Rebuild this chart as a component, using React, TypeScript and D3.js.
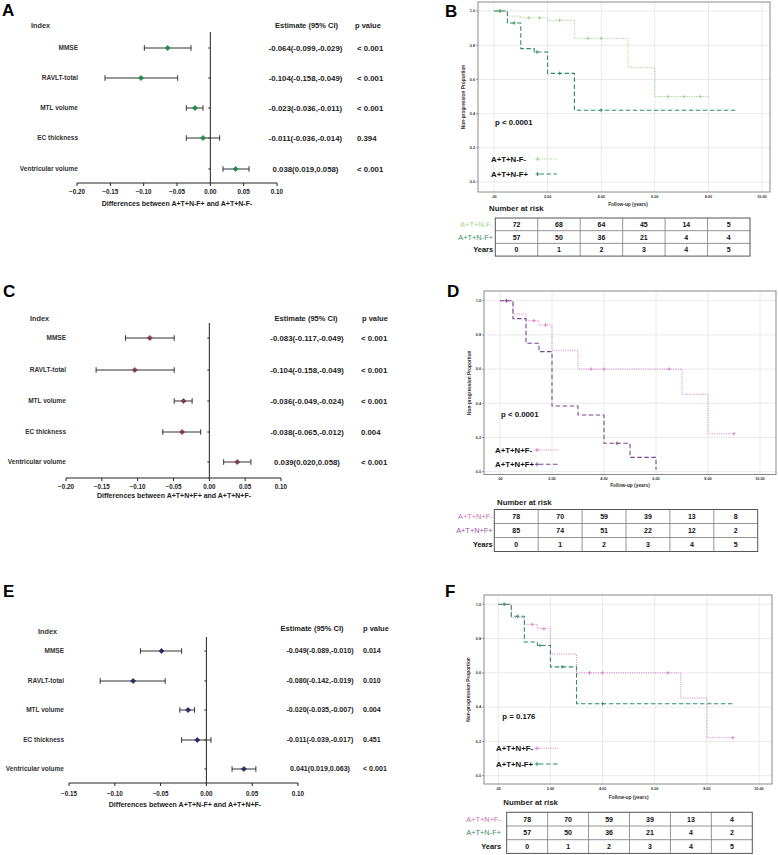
import React from "react";
import * as d3 from "d3";

const FONT = "'Liberation Sans', Arial, Helvetica, sans-serif";

// ---- forest plot data ----
const indexNames = ["MMSE", "RAVLT-total", "MTL volume", "EC thickness", "Ventricular volume"];
const ticksAC = [-0.2, -0.15, -0.1, -0.05, 0, 0.05, 0.1];
const ticksE = [-0.15, -0.1, -0.05, 0, 0.05, 0.1];

const estA = [-0.064, -0.104, -0.023, -0.011, 0.038];
const lowA = [-0.099, -0.158, -0.036, -0.036, 0.019];
const highA = [-0.029, -0.049, -0.011, 0.014, 0.058];
const ciTextA = ["-0.064(-0.099,-0.029)", "-0.104(-0.158,-0.049)", "-0.023(-0.036,-0.011)", "-0.011(-0.036,-0.014)", "0.038(0.019,0.058)"];
const pTextA = ["< 0.001", "< 0.001", "< 0.001", "0.394", "< 0.001"];

const estC = [-0.083, -0.104, -0.036, -0.038, 0.039];
const lowC = [-0.117, -0.158, -0.049, -0.065, 0.02];
const highC = [-0.049, -0.049, -0.024, -0.012, 0.058];
const ciTextC = ["-0.083(-0.117,-0.049)", "-0.104(-0.158,-0.049)", "-0.036(-0.049,-0.024)", "-0.038(-0.065,-0.012)", "0.039(0.020,0.058)"];
const pTextC = ["< 0.001", "< 0.001", "< 0.001", "0.004", "< 0.001"];

const estE = [-0.049, -0.08, -0.02, -0.01, 0.041];
const lowE = [-0.072, -0.116, -0.029, -0.027, 0.028];
const highE = [-0.027, -0.045, -0.013, 0.005, 0.054];
const ciTextE = ["-0.049(-0.089,-0.010)", "-0.080(-0.142,-0.019)", "-0.020(-0.035,-0.007)", "-0.011(-0.039,-0.017)", "0.041(0.019,0.063)"];
const pTextE = ["0.014", "0.010", "0.004", "0.451", "< 0.001"];

// ---- survival data ----
const yearTicks = [0, 2, 4, 6, 8, 10];
const propTicks = [0, 0.2, 0.4, 0.6, 0.8, 1.0];

// A+T+N-F-
const tNegFneg = [0, 0.5, 1.0, 2.0, 3.0, 5.0, 6.0, 8.0];
const sNegFneg = [1.0, 0.97, 0.96, 0.945, 0.84, 0.67, 0.5, 0.5];
const cNegFneg = [0.22, 1.3, 1.7, 2.45, 3.5, 4.0, 6.5, 7.1, 7.7];
// A+T+N-F+
const tNegFpos = [0, 0.5, 1.0, 1.5, 2.0, 3.0, 9.0];
const sNegFpos = [1.0, 0.93, 0.78, 0.76, 0.635, 0.42, 0.42];
const cNegFpos = [0.22, 0.75, 1.6, 2.45, 4.0];
// A+T+N+F-
const tPosFneg = [0, 0.5, 1.0, 1.5, 2.0, 3.0, 7.0, 8.0, 9.0];
const sPosFneg = [1.0, 0.922, 0.883, 0.858, 0.71, 0.6, 0.453, 0.222, 0.222];
const cPosFneg = [0.25, 1.3, 1.75, 3.5, 4.0, 6.5, 9.0];
// A+T+N+F+
const tPosFpos = [0, 0.5, 1.0, 1.5, 2.0, 3.0, 4.0, 5.0, 6.0];
const sPosFpos = [1.0, 0.895, 0.751, 0.702, 0.384, 0.332, 0.166, 0.084, 0.012];
const cPosFpos = [0.25, 4.5];

const riskYears = [0, 1, 2, 3, 4, 5];
const riskB1 = [72, 68, 64, 45, 14, 5];
const riskB2 = [57, 50, 36, 21, 4, 4];
const riskD1 = [78, 70, 59, 39, 13, 8];
const riskD2 = [85, 74, 51, 22, 12, 2];
const riskF1 = [78, 70, 59, 39, 13, 4];
const riskF2 = [57, 50, 36, 21, 4, 2];

const lightGreen = "#9fd08a";
const tealGreen = "#2f8c63";
const pink = "#d67fc6";
const purple = "#7c4596";

function Forest(p: any) {
  const x = d3.scaleLinear().domain(p.domain).range(p.range);
  const fmt = d3.format(".2f");
  const marker = d3.symbol().type((d3 as any).symbolDiamond2 || d3.symbolDiamond).size(16)();
  return (
    <g fontFamily={FONT} fontWeight="bold">
      <text x={p.letter[0]} y={p.letter[1]} fontSize={17} fill="#000">{p.name}</text>
      <text x={p.indexX} y={p.indexY} fontSize={7.3} fill="#333" dy="0.35em">Index</text>
      <text x={p.estHeadCx} y={p.headY} fontSize={7.5} fill="#222" dy="0.35em" textAnchor="middle">Estimate (95% CI)</text>
      <text x={p.pHeadX} y={p.headY} fontSize={7.5} fill="#222" dy="0.35em">p value</text>
      {/* zero line */}
      <line x1={x(0)} x2={x(0)} y1={p.vTop} y2={p.axisY} stroke="#222" strokeWidth={1} />
      {/* x axis */}
      <line x1={p.range[0]} x2={p.range[1]} y1={p.axisY} y2={p.axisY} stroke="#222" strokeWidth={1} />
      {p.ticks.map((t: number) => (
        <g key={t}>
          <line x1={x(t)} x2={x(t)} y1={p.axisY} y2={p.axisY + 3} stroke="#222" />
          <text x={x(t)} y={p.tickLabelY} fontSize={6.3} textAnchor="middle" dy="0.35em" fill="#222">{fmt(t)}</text>
        </g>
      ))}
      <text x={p.titleCx} y={p.titleY} fontSize={7} textAnchor="middle" dy="0.35em" fill="#222">{p.title}</text>
      {indexNames.map((n, i) => {
        const y = p.rows[i];
        return (
          <g key={n}>
            <text x={p.labelRight} y={y} fontSize={6.5} textAnchor="end" dy="0.35em" fill="#333">{n}</text>
            <line x1={x(0) - 2} x2={x(0)} y1={y} y2={y} stroke="#222" />
            <line x1={x(p.low[i])} x2={x(p.high[i])} y1={y} y2={y} stroke="#333" strokeWidth={1} />
            <line x1={x(p.low[i])} x2={x(p.low[i])} y1={y - 2.8} y2={y + 2.8} stroke="#333" />
            <line x1={x(p.high[i])} x2={x(p.high[i])} y1={y - 2.8} y2={y + 2.8} stroke="#333" />
            <path d={marker || ""} transform={`translate(${x(p.est[i])},${y})`} fill={p.color} stroke={p.color} strokeWidth={0.8} strokeLinejoin="round" />
            <text x={p.estCx} y={y} fontSize={p.estFont} textAnchor="middle" dy="0.35em" fill="#222">{p.ciText[i]}</text>
            <text x={p.pX} y={y} fontSize={p.estFont} dy="0.35em" fill="#222">{p.pText[i]}</text>
          </g>
        );
      })}
    </g>
  );
}

function stepAt(t: number[], s: number[], c: number) {
  let v = s[0];
  for (let i = 0; i < t.length; i++) if (t[i] <= c) v = s[i];
  return v;
}

function KM(p: any) {
  const x = d3.scaleLinear().domain([0, 10]).range(p.xr);
  const y = d3.scaleLinear().domain([0, 1]).range(p.yr);
  const line = d3
    .line<[number, number]>()
    .x((d) => x(d[0]))
    .y((d) => y(d[1]))
    .curve(d3.curveStepAfter);
  const f = p.frame;
  const xfmt = (v: number) => (v === 0 ? ".00" : d3.format(".2f")(v));
  const yfmt = d3.format(".1f");
  const cols = riskYears.length;
  const colW = (p.table.right - p.table.left) / cols;
  const rowH = p.table.rowH;
  const rows = [
    { label: p.rows[0].label, color: p.rows[0].color, vals: p.rows[0].vals },
    { label: p.rows[1].label, color: p.rows[1].color, vals: p.rows[1].vals },
    { label: "Years", color: "#111", vals: riskYears },
  ];
  return (
    <g fontFamily={FONT}>
      <text x={p.letter[0]} y={p.letter[1]} fontSize={17} fontWeight="bold">{p.name}</text>
      {yearTicks.map((t) => (
        <line key={"gx" + t} x1={x(t)} x2={x(t)} y1={f.y0} y2={f.y1} stroke="#e4e4e4" strokeWidth={0.8} />
      ))}
      {propTicks.map((t) => (
        <line key={"gy" + t} x1={f.x0} x2={f.x1} y1={y(t)} y2={y(t)} stroke="#e4e4e4" strokeWidth={0.8} />
      ))}
      <rect x={f.x0} y={f.y0} width={f.x1 - f.x0} height={f.y1 - f.y0} fill="none" stroke="#8a8a8a" strokeWidth={1} />
      {propTicks.map((t) => (
        <g key={"ty" + t}>
          <line x1={f.x0 - 2} x2={f.x0} y1={y(t)} y2={y(t)} stroke="#666" strokeWidth={0.6} />
          <text x={f.x0 - 3} y={y(t)} fontSize={3.8} textAnchor="end" dy="0.35em" fill="#333" fontWeight="bold">{yfmt(t)}</text>
        </g>
      ))}
      {yearTicks.map((t) => (
        <text key={"tx" + t} x={x(t)} y={p.tickLabelY} fontSize={3.8} textAnchor="middle" dy="0.35em" fill="#333" fontWeight="bold">{xfmt(t)}</text>
      ))}
      <text x={x(5)} y={p.xTitleY} fontSize={4.8} textAnchor="middle" dy="0.35em" fill="#333" fontWeight="bold">Follow-up (years)</text>
      <text transform={`translate(${p.yTitleX},${(f.y0 + f.y1) / 2}) rotate(-90)`} fontSize={4.8} textAnchor="middle" dy="0.35em" fill="#333" fontWeight="bold">Non-progression Proportion</text>
      {p.curves.map((c: any, k: number) => {
        const pts = c.t.map((t: number, i: number) => [t, c.s[i]] as [number, number]);
        return (
          <g key={"c" + k}>
            <path d={line(pts) || ""} fill="none" stroke={c.color} strokeWidth={c.dash === "dot" ? 1 : 1.1} strokeDasharray={c.dash === "dot" ? "1,1.3" : "4.5,2.5"} />
            {c.cens.map((ct: number, j: number) => {
              const cx = x(ct);
              const cy = y(stepAt(c.t, c.s, ct));
              return (
                <g key={j} stroke={c.color} strokeWidth={0.9}>
                  <line x1={cx} x2={cx} y1={cy - 1.8} y2={cy + 1.8} />
                  <line x1={cx - 1.5} x2={cx + 1.5} y1={cy} y2={cy} />
                </g>
              );
            })}
          </g>
        );
      })}
      <text x={p.pPos[0]} y={p.pPos[1]} fontSize={7.8} fontWeight="bold" dy="0.35em" fill="#111">{p.pText}</text>
      {p.curves.map((c: any, k: number) => {
        const ly = p.legend.ys[k];
        return (
          <g key={"l" + k}>
            <text x={p.legend.x} y={ly} fontSize={7.8} fontWeight="bold" dy="0.35em" fill="#111">{c.name}</text>
            <g stroke={c.color} strokeWidth={1}>
              <line x1={p.legend.sx} x2={p.legend.sx} y1={ly - 2} y2={ly + 2} />
              <line x1={p.legend.sx - 2} x2={p.legend.sx + 2} y1={ly} y2={ly} />
            </g>
            <line x1={p.legend.sx + 2} x2={p.legend.ex} y1={ly} y2={ly} stroke={c.color} strokeWidth={c.dash === "dot" ? 1 : 1.1} strokeDasharray={c.dash === "dot" ? "1,1.3" : "4.5,2.5"} />
          </g>
        );
      })}
      <text x={p.nar[0]} y={p.nar[1]} fontSize={7.8} fontWeight="bold" dy="0.35em" fill="#222">Number at risk</text>
      {rows.map((r, ri) => {
        const top = p.table.top + ri * rowH;
        return (
          <g key={"r" + ri}>
            <text x={p.table.labelRight} y={top + rowH / 2} fontSize={7.4} textAnchor="end" dy="0.35em" fill={r.color} fontWeight={ri === 2 ? "bold" : "normal"}>{r.label}</text>
            {r.vals.map((v: number, ci: number) => (
              <text key={ci} x={p.table.left + colW * (ci + 0.5)} y={top + rowH / 2} fontSize={7} textAnchor="middle" dy="0.35em" fontWeight="bold" fill="#111">{v}</text>
            ))}
          </g>
        );
      })}
      {d3.range(1, 3).map((i) => (
        <line key={"h" + i} x1={p.table.left} x2={p.table.right} y1={p.table.top + i * rowH} y2={p.table.top + i * rowH} stroke="#888" strokeWidth={0.9} />
      ))}
      {d3.range(1, cols).map((i) => (
        <line key={"v" + i} x1={p.table.left + i * colW} x2={p.table.left + i * colW} y1={p.table.top} y2={p.table.top + 3 * rowH} stroke="#888" strokeWidth={0.9} />
      ))}
      <rect x={p.table.left} y={p.table.top} width={p.table.right - p.table.left} height={3 * rowH} fill="none" stroke="#555" strokeWidth={1} />
    </g>
  );
}

export default function App() {
  return (
    <svg width={778} height={855} style={{ position: "absolute", left: 0, top: 0, background: "#fff" }}>
      <Forest
        name="A" letter={[2, 16]} domain={[-0.2, 0.1]} range={[77, 277]} ticks={ticksAC}
        rows={[48, 78, 108, 138, 169]} axisY={183} vTop={32} labelRight={78}
        est={estA} low={lowA} high={highA} ciText={ciTextA} pText={pTextA}
        estCx={305.5} estFont={7.8} pX={357} headY={25} indexX={31} indexY={25}
        estHeadCx={306.5} pHeadX={355} tickLabelY={192} titleY={203.5} titleCx={177}
        title="Differences between A+T+N-F+ and A+T+N-F-" color="#1f8a4c"
      />
      <Forest
        name="C" letter={[3, 296.5]} domain={[-0.2, 0.1]} range={[66, 281]} ticks={ticksAC}
        rows={[338, 370, 401, 432, 462]} axisY={478} vTop={323} labelRight={66}
        est={estC} low={lowC} high={highC} ciText={ciTextC} pText={pTextC}
        estCx={307} estFont={7.8} pX={361} headY={318} indexX={30} indexY={318}
        estHeadCx={306} pHeadX={362} tickLabelY={487} titleY={496} titleCx={174}
        title="Differences between A+T+N+F+ and A+T+N+F-" color="#7b3f4f"
      />
      <Forest
        name="E" letter={[3, 597]} domain={[-0.15, 0.1]} range={[69, 298]} ticks={ticksE}
        rows={[651, 681, 710, 740, 769]} axisY={783} vTop={637} labelRight={64}
        est={estE} low={lowE} high={highE} ciText={ciTextE} pText={pTextE}
        estCx={320} estFont={7.1} pX={363} headY={628} indexX={38} indexY={631}
        estHeadCx={312} pHeadX={363} tickLabelY={793.5} titleY={805} titleCx={185}
        title="Differences between A+T+N-F+ and A+T+N+F-" color="#2b2b6b"
      />
      <KM
        name="B" letter={[445, 17]}
        frame={{ x0: 478, y0: 2, x1: 770, y1: 192 }} xr={[494, 762]} yr={[182, 11]}
        tickLabelY={197} xTitleY={204} yTitleX={463}
        curves={[
          { name: "A+T+N-F-", t: tNegFneg, s: sNegFneg, cens: cNegFneg, color: lightGreen, dash: "dot" },
          { name: "A+T+N-F+", t: tNegFpos, s: sNegFpos, cens: cNegFpos, color: tealGreen, dash: "dash" },
        ]}
        pText="p < 0.0001" pPos={[495, 122]}
        legend={{ x: 491, ys: [159, 174], sx: 537.5, ex: 557 }}
        nar={[489, 208]}
        table={{ left: 495.3, right: 750, top: 218, rowH: 12.7, labelRight: 493 }}
        rows={[
          { label: "A+T+N-F-", color: "#a3d48b", vals: riskB1 },
          { label: "A+T+N-F+", color: "#3f8f5f", vals: riskB2 },
        ]}
      />
      <KM
        name="D" letter={[447, 297]}
        frame={{ x0: 484, y0: 291, x1: 776, y1: 474.5 }} xr={[500, 760]} yr={[471.7, 300.7]}
        tickLabelY={478.5} xTitleY={485} yTitleX={469}
        curves={[
          { name: "A+T+N+F-", t: tPosFneg, s: sPosFneg, cens: cPosFneg, color: pink, dash: "dot" },
          { name: "A+T+N+F+", t: tPosFpos, s: sPosFpos, cens: cPosFpos, color: purple, dash: "dash" },
        ]}
        pText="p < 0.0001" pPos={[501, 414.3]}
        legend={{ x: 495, ys: [450, 464.3], sx: 537, ex: 558 }}
        nar={[497, 502.7]}
        table={{ left: 494.3, right: 757.7, top: 509.5, rowH: 14, labelRight: 492.7 }}
        rows={[
          { label: "A+T+N+F-", color: "#cc72b8", vals: riskD1 },
          { label: "A+T+N+F+", color: "#9b4fa6", vals: riskD2 },
        ]}
      />
      <KM
        name="F" letter={[445, 597]}
        frame={{ x0: 484, y0: 595, x1: 772, y1: 784 }} xr={[498.3, 759]} yr={[775.7, 604.3]}
        tickLabelY={788.3} xTitleY={797.3} yTitleX={468}
        curves={[
          { name: "A+T+N+F-", t: tPosFneg, s: sPosFneg, cens: cPosFneg, color: pink, dash: "dot" },
          { name: "A+T+N-F+", t: tNegFpos, s: sNegFpos, cens: cNegFpos, color: tealGreen, dash: "dash" },
        ]}
        pText="p = 0.176" pPos={[502.3, 716.7]}
        legend={{ x: 496, ys: [748.3, 764], sx: 537, ex: 558 }}
        nar={[503.3, 802.7]}
        table={{ left: 506.7, right: 752.3, top: 812.3, rowH: 13.7, labelRight: 501 }}
        rows={[
          { label: "A+T+N+F-", color: "#d070b0", vals: riskF1 },
          { label: "A+T+N-F+", color: "#3a8a5a", vals: riskF2 },
        ]}
      />
    </svg>
  );
}
